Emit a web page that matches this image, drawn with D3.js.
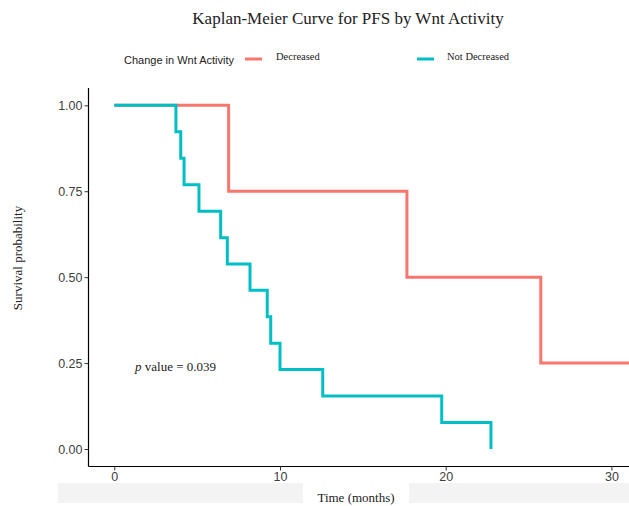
<!DOCTYPE html>
<html>
<head>
<meta charset="utf-8">
<script src="https://cdn.jsdelivr.net/npm/d3@7"></script>
<style>
  body { margin: 0; background: #fff; }
  svg { display: block; }
</style>
</head>
<body>
<script>
// Kaplan-Meier steps
let groups = ['Decreased', 'Not Decreased']
let colors = ['#F8766D', '#00BFC4']
let decTime = [0, 6.9, 17.66, 25.74, 33]
let decSurv = [1, 0.75, 0.5, 0.25, 0.25]
let notTime = [0, 3.72, 4.01, 4.21, 5.11, 6.42, 6.82, 8.19, 9.23, 9.44, 10.0, 12.58, 19.76, 22.73]
let notSurv = [1, 0.923, 0.846, 0.769, 0.692, 0.615, 0.538, 0.462, 0.385, 0.308, 0.231, 0.154, 0.077, 0]
let xTicks = [0, 10, 20, 30]
let yTicks = [0, 0.25, 0.5, 0.75, 1]

let width = 629, height = 506
let serif = '"Liberation Serif", "DejaVu Serif", serif'
let sans = '"Liberation Sans", Arial, sans-serif'

let x = d3.scaleLinear().domain([0, 30]).range([114.3, 611.4])
let y = d3.scaleLinear().domain([0, 1]).range([449, 105.3])
let panelLeft = 88.5, panelBottom = 466.5, panelTop = 88

let svg = d3.select('body').append('svg')
  .attr('width', width).attr('height', height)

// grey strips under the x axis
svg.append('rect').attr('x', 58).attr('y', 483).attr('width', 245).attr('height', 20).attr('fill', '#f3f3f3')
svg.append('rect').attr('x', 409).attr('y', 483).attr('width', 220).attr('height', 20).attr('fill', '#f3f3f3')

svg.append('defs').append('clipPath').attr('id', 'clip')
  .append('rect').attr('x', panelLeft).attr('y', panelTop)
  .attr('width', width - panelLeft).attr('height', panelBottom - panelTop)

let line = d3.line().curve(d3.curveStepAfter)
  .x(d => x(d[0])).y(d => y(d[1]))

let series = [d3.zip(decTime, decSurv), d3.zip(notTime, notSurv)]

svg.append('g').attr('clip-path', 'url(#clip)')
  .selectAll('path')
  .data(series)
  .enter().append('path')
  .attr('d', line)
  .attr('fill', 'none')
  .attr('stroke', (d, i) => colors[i])
  .attr('stroke-width', 3)

// axes
let gx = svg.append('g')
  .attr('transform', 'translate(0,' + panelBottom + ')')
  .call(d3.axisBottom(x).tickValues(xTicks).tickSize(4).tickPadding(2))
gx.select('.domain').attr('d', 'M' + panelLeft + ',0H' + width).attr('stroke', '#000').attr('stroke-width', 1.2)
gx.selectAll('.tick line').attr('stroke', '#333')
gx.selectAll('text').attr('font-family', sans).attr('font-size', 12.5).attr('fill', '#404040')

let gy = svg.append('g')
  .attr('transform', 'translate(' + panelLeft + ',0)')
  .call(d3.axisLeft(y).tickValues(yTicks).tickFormat(d3.format('.2f')).tickSize(4).tickPadding(2))
gy.select('.domain').attr('d', 'M0,' + panelTop + 'V' + panelBottom).attr('stroke', '#000').attr('stroke-width', 1.2)
gy.selectAll('.tick line').attr('stroke', '#333')
gy.selectAll('text').attr('font-family', sans).attr('font-size', 12.5).attr('fill', '#404040')

// titles
svg.append('text').attr('x', 348).attr('y', 24).attr('text-anchor', 'middle')
  .attr('font-family', serif).attr('font-size', 17).attr('fill', '#222')
  .text('Kaplan-Meier Curve for PFS by Wnt Activity')

svg.append('text').attr('x', 356).attr('y', 502).attr('text-anchor', 'middle')
  .attr('font-family', serif).attr('font-size', 13).attr('fill', '#222')
  .text('Time (months)')

svg.append('text').attr('transform', 'translate(22,258) rotate(-90)').attr('text-anchor', 'middle')
  .attr('font-family', serif).attr('font-size', 13).attr('fill', '#222')
  .text('Survival probability')

let pv = svg.append('text').attr('x', 135).attr('y', 371)
  .attr('font-family', serif).attr('font-size', 13).attr('fill', '#222')
pv.append('tspan').attr('font-style', 'italic').text('p')
pv.append('tspan').text(' value = 0.039')

// legend
svg.append('text').attr('x', 124).attr('y', 64)
  .attr('font-family', sans).attr('font-size', 11).attr('fill', '#222')
  .text('Change in Wnt Activity')

let keyX = [245, 417], labX = [276, 447]
let leg = svg.selectAll('.leg').data(groups).enter().append('g').attr('class', 'leg')
leg.append('line')
  .attr('x1', (d, i) => keyX[i]).attr('x2', (d, i) => keyX[i] + 17)
  .attr('y1', 59).attr('y2', 59)
  .attr('stroke', (d, i) => colors[i]).attr('stroke-width', 3)
leg.append('text')
  .attr('x', (d, i) => labX[i]).attr('y', 60)
  .attr('font-family', serif).attr('font-size', 10.5).attr('fill', '#222')
  .text(d => d)
</script>
</body>
</html>
